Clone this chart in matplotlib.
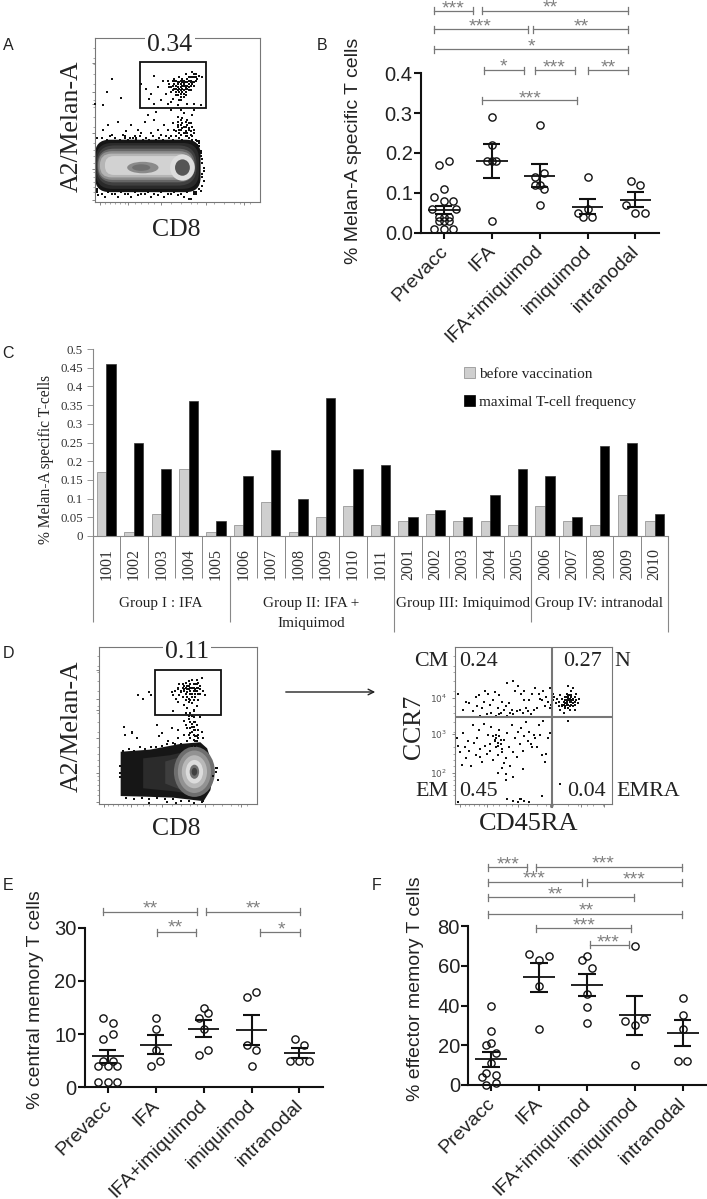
import matplotlib
matplotlib.use('Agg')
import matplotlib.pyplot as plt
from matplotlib.patches import Ellipse, FancyBboxPatch, Patch, Polygon, Rectangle

W, H = 707, 1199
SANS = 'Liberation Sans'
SERIF = 'Liberation Serif'
TEXT = '#222222'
GREY = '#777777'

groups = ['Prevacc', 'IFA', 'IFA+imiquimod', 'imiquimod', 'intranodal']

# panel B: one (offset, value) list per group, then mean and sem limits
b_off = [[-.1, .1, 0, -.2, 0, .2, -.25, .25, -.1, .1, 0, -.1, 0, .1, -.2, 0, .2],
         [0, 0, -.1, 0, .1, 0],
         [0, .1, -.1, -.1, 0, .1, 0],
         [0, 0, -.2, -.1, .1],
         [-.1, .1, -.2, 0, .2]]
b_val = [[.17, .18, .11, .09, .08, .08, .06, .06, .04, .04, .04, .03, .03, .03, .01, .01, .01],
         [.29, .22, .18, .18, .18, .03],
         [.27, .15, .14, .12, .12, .11, .07],
         [.14, .06, .05, .04, .04],
         [.13, .12, .07, .05, .05]]
b_mean = [.058, .18, .143, .065, .083]
b_upper = [.068, .222, .172, .085, .101]
b_lower = [.047, .137, .115, .047, .065]

# panel E
e_off = [[-.1, .1, .1, -.1, -.1, .1, -.2, 0, .2, -.2, 0, .2],
         [0, 0, 0, -.1, .1],
         [0, .1, -.1, 0, .1, -.1],
         [-.1, .1, -.1, .1, 0],
         [-.1, .1, -.2, 0, .2]]
e_val = [[13, 12, 10, 9, 5, 5, 4, 4, 4, 1, 1, 1],
         [13, 11, 7, 4, 5],
         [15, 14, 13, 11, 7, 6],
         [17, 18, 8, 7, 4],
         [9, 8, 5, 5, 5]]
e_mean = [5.8, 8, 11, 10.8, 6.4]
e_upper = [7, 9.8, 12.6, 13.6, 7.3]
e_lower = [4.6, 6.2, 9.4, 8, 5.5]

# panel F
f_off = [[0, 0, -.1, 0, .1, 0, -.1, -.2, .1, -.1, .1],
         [-.2, 0, .2, 0, 0],
         [-.1, 0, .1, 0, 0, 0],
         [0, -.2, .2, 0, 0],
         [0, 0, 0, -.1, .1]]
f_val = [[40, 27, 20, 21, 16, 11, 6, 4, 5, 0, 1],
         [66, 63, 65, 50, 28],
         [63, 65, 59, 46, 39, 31],
         [70, 32, 33, 30, 10],
         [44, 35, 28, 12, 12]]
f_mean = [13, 54.5, 50.5, 35, 26.3]
f_upper = [16.5, 61.5, 56, 44.7, 32.5]
f_lower = [9, 47, 44.7, 25.3, 19.7]

# panel C
patients = ['1001', '1002', '1003', '1004', '1005', '1006', '1007', '1008', '1009', '1010', '1011',
            '2001', '2002', '2003', '2004', '2005', '2006', '2007', '2008', '2009', '2010']
before_vacc = [.17, .01, .06, .18, .01, .03, .09, .01, .05, .08, .03,
               .04, .06, .04, .04, .03, .08, .04, .03, .11, .04]
maximal_freq = [.46, .25, .18, .36, .04, .16, .23, .10, .37, .18, .19,
                .05, .07, .05, .11, .18, .16, .05, .24, .25, .06]
c_ticks = [0, .05, .1, .15, .2, .25, .3, .35, .4, .45, .5]
c_tick_labels = ['0', '0.05', '0.1', '0.15', '0.2', '0.25', '0.3', '0.35', '0.4', '0.45', '0.5']

# flow panels, both axes run 0-100
a_gate_x = [28, 31, 33, 36, 38, 41, 43, 45, 46, 47,
            48, 49, 49, 50, 50, 51, 51, 52, 52, 53,
            53, 54, 54, 55, 55, 56, 56, 57, 57, 58,
            58, 59, 59, 60, 60, 61, 61, 62, 63, 65,
            36, 40, 44, 47, 50, 52, 54, 55, 56, 58,
            52, 53, 54, 55, 48, 49, 46, 34, 60, 64,
            44, 45, 46, 47, 47, 48, 48, 49, 50, 50,
            51, 51, 52, 52, 53, 53, 53, 54, 54, 55,
            55, 56, 56, 56, 57, 57, 58, 58, 59, 59,
            60, 60, 61, 49, 50, 51, 52, 54, 55, 57]
a_gate_y = [72, 69, 63, 77, 70, 74, 66, 72, 61, 68,
            75, 71, 65, 73, 68, 76, 62, 70, 66, 74,
            69, 72, 64, 78, 67, 73, 60, 76, 70, 74,
            68, 79, 72, 76, 71, 78, 74, 75, 77, 76,
            60, 62, 60, 63, 59, 62, 71, 70, 75, 73,
            72, 73, 74, 71, 74, 69, 70, 66, 60, 59,
            74, 70, 67, 71, 74, 69, 72, 74, 70, 72,
            69, 73, 68, 74, 67, 71, 75, 68, 73, 69,
            73, 69, 71, 75, 72, 74, 71, 76, 73, 76,
            73, 78, 76, 67, 65, 67, 64, 66, 65, 68]
a_low_x = [5, 8, 10, 14, 17, 19, 21, 22, 24, 26,
           28, 30, 32, 34, 36, 38, 40, 42, 44, 46,
           47, 48, 49, 50, 50, 51, 52, 52, 53, 54,
           55, 55, 56, 56, 57, 58, 58, 59, 60, 46,
           5, 7.5, 10, 16, 0, 37, 52, 60, 25, 18,
           2, 6, 10, 14, 18, 22, 26, 30, 34, 38,
           42, 46, 50, 54, 57, 60, 58, 63, 65, 64,
           63, 64, 61, 62,
           1, 4, 7, 9, 12, 15, 18, 20, 23, 25,
           27, 29, 31, 33, 35, 37, 39, 41, 43, 45,
           47, 49, 51, 53, 55, 57, 59, 61, 62, 63,
           49, 50, 51, 52, 52, 53, 54, 54, 55, 56,
           56, 57, 57, 58, 59, 59, 60, 50, 53, 55,
           1, 4, 8, 12, 16, 20, 24, 28, 32, 36,
           40, 44, 48, 52, 56, 60, 64, 65, 66, 65,
           66, 65, 65, 64, 66, 63, 62, 61, 1, 1]
a_low_y = [44, 47, 41, 49, 41, 43, 39, 47, 40, 44,
           42, 49, 53, 42, 50, 44, 41, 47, 44, 40,
           48, 44, 40, 52, 46, 42, 50, 44, 48, 54,
           42, 46, 40, 50, 44, 48, 41, 53, 44, 56,
           59, 67, 75, 63.5, 60, 55, 56, 56, 39, 39,
           4, 3, 5, 3, 5, 3, 4, 5, 3, 4,
           3, 5, 4, 3, 2, 5, 2, 8, 15, 28,
           36, 31, 6, 33,
           39, 39, 38, 40, 39, 38, 40, 38, 39, 38,
           40, 38, 39, 38, 40, 38, 39, 38, 40, 39,
           38, 40, 39, 38, 40, 39, 38, 38, 37, 37,
           43, 47, 44, 41, 47, 45, 42, 46, 43, 47,
           42, 45, 48, 43, 46, 40, 42, 49, 51, 49,
           6, 5, 6, 5, 6, 5, 6, 5, 6, 5,
           6, 5, 6, 5, 6, 6, 7, 10, 13, 17,
           21, 24, 26, 30, 19, 34, 35, 5, 7, 8]

d_gate_x = [46, 47, 48, 49, 50, 50, 51, 51, 52, 53,
            53, 54, 54, 55, 55, 56, 56, 57, 57, 58,
            58, 59, 59, 60, 60, 61, 61, 62, 62, 63,
            63, 64, 64, 65, 66, 67, 55, 58, 60, 62,
            50, 52, 53, 54, 55, 55, 56, 56, 57, 57,
            58, 58, 59, 59, 60, 60, 61, 61, 62, 63,
            54, 56, 57, 58, 59, 60, 61, 62, 63, 64]
d_gate_y = [71, 69, 72, 67, 73, 65, 69, 76, 71, 74,
            68, 75, 63, 77, 70, 73, 61, 78, 67, 74,
            70, 79, 64, 76, 60, 73, 68, 79, 72, 77,
            66, 75, 70, 80, 72, 69, 58, 58, 59, 62,
            74, 72, 76, 72, 74, 66, 75, 68, 73, 65,
            76, 66, 74, 68, 72, 66, 76, 70, 74, 70,
            73, 71, 75, 72, 70, 74, 72, 76, 74, 73]
d_low_x = [55, 57, 58, 59, 60, 60, 61, 61, 62, 63,
           64, 65, 54, 52, 50, 46, 40, 37, 44, 50,
           63, 66, 59, 56, 61, 16, 21, 24, 38, 48,
           25, 28, 32, 33, 16, 21, 16.5, 47,
           74, 74.5, 75.5, 72.5, 75, 13, 13, 13,
           32, 43, 49, 60, 66,
           54, 56, 57, 58, 59, 60, 61, 62, 63, 58,
           59, 60, 61, 59, 60, 62, 57, 58, 60, 63,
           15, 19, 22, 26, 29, 33, 36, 40, 43, 47,
           17, 22, 27, 32, 37, 42, 47, 52, 57, 65]
d_low_y = [50, 54, 48, 56, 44, 52, 40, 47, 50, 44,
           55, 46, 44, 38, 47, 48, 45, 50, 40, 42,
           38, 42, 37, 40, 37, 49, 45, 42, 43, 38,
           69, 67, 71, 69, 49, 45.5, 44, 59,
           23, 20.5, 15, 17.5, 23, 24, 19.5, 17,
           .5, 1.5, .5, .5, 2,
           53, 48, 56, 52, 49, 55, 52, 43, 47, 42,
           46, 41, 43, 51, 47, 40, 44, 45, 49, 42,
           34, 35, 34, 36, 35, 36, 36, 37, 38, 39,
           4, 3, 4, 3, 4, 3, 3, 2, 2, 1]

q_x = [62, 63, 64, 65, 66, 66, 67, 67, 68, 68,
       69, 69, 70, 70, 71, 71, 72, 72, 73, 73,
       74, 74, 75, 75, 76, 76, 77, 77, 78, 72,
       70, 71, 73, 74, 76, 79, 75, 69, 72, 73,
       2, 5, 7, 9, 11, 13, 14, 15, 16, 17,
       18, 19, 20, 21, 22, 23, 24, 25, 26, 27,
       28, 29, 30, 31, 32, 33, 34, 35, 36, 37,
       38, 39, 40, 41, 42, 43, 44, 45, 46, 47,
       48, 49, 50, 51, 52, 53, 54, 55, 56, 57,
       33, 44, 58, 59, 60, 60, 62, 61, 37, 28,
       1, 2, 3, 4, 5, 6, 7, 8, 9, 10,
       11, 12, 13, 14, 15, 16, 17, 18, 19, 20,
       21, 22, 23, 24, 25, 26, 27, 28, 29, 30,
       31, 32, 33, 34, 35, 36, 37, 38, 39, 40,
       41, 42, 43, 44, 45, 46, 47, 48, 49, 50,
       51, 52, 53, 54, 55, 56, 57, 58, 59, 22,
       25, 26, 26, 27, 28, 29, 27, 30, 31, 24,
       30, 32, 37, 32, 43, 50, 16, 27, 60, 61,
       33, 37, 40, 41, 42, 44, 47, 55, 67, 2,
       71, 72, 73, 72, 73, 74, 71, 72, 74, 75,
       70, 71, 73, 75, 69, 68, 74, 76, 70, 72]
q_y = [66, 68, 64, 67, 65, 62, 69, 60, 67, 63,
       65, 58, 68, 62, 70, 66, 63, 67, 69, 60,
       65, 72, 62, 67, 68, 60, 66, 70, 64, 75,
       66, 64, 66, 68, 65, 67, 74, 55, 53, 65,
       70, 60, 65, 64, 59, 68, 62, 69, 56, 61,
       65, 72, 57, 70, 63, 58, 66, 71, 56, 61,
       69, 58, 65, 60, 62, 56, 64, 58, 60, 57,
       72, 59, 75, 60, 70, 58, 72, 61, 59, 66,
       57, 70, 60, 74, 61, 70, 67, 66, 72, 62,
       77, 66, 68, 65, 74, 61, 70, 63, 78, 57,
       42, 37, 33, 25, 45, 36, 29, 40, 34, 24,
       50, 39, 31, 42, 47, 35, 27, 51, 37, 32,
       44, 34, 49, 28, 41, 36, 31, 47, 38, 33,
       41, 29, 45, 36, 24, 50, 33, 42, 30, 46,
       38, 48, 34, 43, 52, 40, 46, 38, 36, 44,
       42, 36, 50, 44, 31, 53, 27, 32, 42, 38,
       40, 42, 44, 39, 43, 41, 37, 35, 26, 43,
       23, 19, 17, 15, 22, 44, 30, 20, 45, 45,
       3, 2, 1, 3, 3, 2, 1, 5, 13, 1,
       65, 66, 67, 68, 66, 66, 63, 61, 63, 64,
       61, 68, 62, 66, 63, 62, 69, 63, 64, 69]

# blob outlines for the density plots
a_layer_boxes = [(0, 6, 64, 32), (.5, 8, 62.5, 28), (1, 10, 60.5, 24.5), (1.5, 12, 59, 20.5),
                 (2, 13.5, 57.5, 17.5), (3, 15, 55, 14.5), (6, 16.5, 50, 11.5)]
a_layer_radius = [9, 10, 11, 10, 8.5, 7, 5.5]
a_layer_colors = ['#151515', '#2a2a2a', '#404040', '#666666', '#8e8e8e', '#b5b5b5', '#d2d2d2']
d_outer_x = [14.4, 32.3, 51.4, 64, 68, 70, 72, 70, 66, 47, 30, 14.4]
d_outer_y = [32.6, 33.9, 37.5, 38.6, 35, 29, 19.5, 9, 2.5, 4.7, 5.3, 5.7]
d_inner_x = [[28, 45, 58, 64, 67, 69, 67, 62, 48, 28],
             [42, 52, 60, 65, 67, 67, 62, 52, 42],
             [49, 56, 62, 66, 67, 66, 62, 55, 49]]
d_inner_y = [[29, 31, 34, 33, 28, 19.5, 10, 6, 8, 10],
             [27, 30, 33, 30, 20, 11, 7, 9, 13],
             [26, 29, 32, 28, 20, 12, 8, 10, 15]]
d_inner_colors = ['#2b2b2b', '#3e3e3e', '#5c5c5c']
d_ring_sizes = [(26, 32), (21, 27), (16, 21), (11, 15), (6, 9), (3.5, 5)]
d_ring_colors = ['#6e6e6e', '#929292', '#b8b8b8', '#dcdcdc', '#707070', '#404040']

flow_minor = [6, 9, 12, 15, 18, 24, 28, 32, 36, 46, 52, 58, 62, 72, 78, 84, 88, 94]


def px_axes(fig, left, top, right, bottom):
    return fig.add_axes([left / W, 1 - bottom / H, (right - left) / W, (bottom - top) / H])


def scatter_panel(fig, box, ylim, yticks, ylabel, ylabel_x, off, val, mean, upper, lower):
    ax = px_axes(fig, *box)
    xpos = []
    ypos = []
    for i in range(len(groups)):
        xpos += [i + o for o in off[i]]
        ypos += val[i]
    ax.set_xlim((box[0] - (box[0] + 22.8)) / 47.9, 4 + (box[2] - (box[0] + 22.8 + 4 * 47.9)) / 47.9)
    ax.set_ylim(*ylim)
    ax.plot(xpos, ypos, 'o', ms=5.2, mfc='none', mec='#111111', mew=1.0, clip_on=False, zorder=3)
    for i in range(len(groups)):
        ax.hlines(mean[i], i - .33, i + .33, color='#111111', lw=1.3, zorder=4)
        ax.hlines([upper[i], lower[i]], i - .18, i + .18, color='#111111', lw=1.5, zorder=4)
        ax.vlines(i, lower[i], upper[i], color='#111111', lw=1.5, zorder=4)
    for s in ['top', 'right']:
        ax.spines[s].set_visible(False)
    for s in ['left', 'bottom']:
        ax.spines[s].set_linewidth(1.5)
        ax.spines[s].set_color('#111111')
    ax.set_yticks(yticks)
    ax.set_xticks(range(len(groups)))
    ax.set_xticklabels([])
    # rotated labels sit a little left of their ticks
    for i, g in enumerate(groups):
        ax.annotate(g, xy=(i, ylim[0]), xytext=(-3.6, -7), textcoords='offset points', rotation=45,
                    ha='right', va='top', rotation_mode='anchor', fontsize=14, family=SANS, color=TEXT,
                    annotation_clip=False)
    ax.tick_params(axis='x', length=4, width=1.5, color='#111111')
    ax.tick_params(axis='y', length=5, width=1.5, pad=1, labelsize=14.5, labelcolor=TEXT, color='#111111')
    for t in ax.get_yticklabels():
        t.set_family(SANS)
    ov.text(ylabel_x, (box[1] + box[3]) / 2 + ylabel[1], ylabel[0], rotation=90, ha='center', va='center',
            fontsize=14, family=SANS, color=TEXT)
    return ax


def bracket(x0, x1, y, stars, star_x, star_y):
    ov.plot([x0, x1], [y, y], color=GREY, lw=.9)
    ov.plot([x0, x0], [y - 3.5, y + 3.5], color=GREY, lw=.9)
    ov.plot([x1, x1], [y - 3.5, y + 3.5], color=GREY, lw=.9)
    ov.text(star_x, star_y + 4, stars, ha='center', va='center', fontsize=14, family=SANS, color='#808080')


def flow_axes(fig, box, xticks, yticks):
    ax = px_axes(fig, *box)
    ax.set_xlim(0, 100)
    ax.set_ylim(0, 100)
    for s in ax.spines.values():
        s.set_color(GREY)
        s.set_linewidth(.8)
    ax.set_xticks(xticks)
    ax.set_yticks(yticks)
    ax.set_xticklabels([])
    ax.set_yticklabels([])
    ax.set_xticks(flow_minor, minor=True)
    ax.set_yticks(flow_minor, minor=True)
    ax.tick_params(length=2.5, width=.5, color='#555555')
    ax.tick_params(which='minor', length=1.2, width=.4, color='#666666')
    return ax


def dots(ax, x, y, size=2.2):
    ax.scatter(x, y, s=size, c='#111111', marker='s', linewidths=0, zorder=5, clip_on=False)


def serif(x, y, txt, size=18.5, rotation=0, **kw):
    ov.text(x, y, txt, ha='center', va='center', fontsize=size, family=SERIF, color=TEXT, rotation=rotation, **kw)


fig = plt.figure(figsize=(W / 100, H / 100), dpi=100)
ov = fig.add_axes([0, 0, 1, 1], zorder=10)
ov.set_xlim(0, W)
ov.set_ylim(H, 0)
ov.axis('off')

# panel labels
for lab, x, y in [('A', 8, 46), ('B', 322, 46), ('C', 8, 353), ('D', 8, 654), ('E', 8, 886), ('F', 377, 886)]:
    ov.text(x, y, lab, ha='center', va='center', fontsize=11.5, family=SANS, color=TEXT)

# A
ax_a = flow_axes(fig, (95, 38, 260, 202), [3, 20, 40, 67, 90], [1, 20, 42, 60, 67, 85])
for (x0, y0, w, h), col, r in zip(a_layer_boxes, a_layer_colors, a_layer_radius):
    ax_a.add_patch(FancyBboxPatch((x0, y0), w, h, boxstyle='round,pad=0,rounding_size=%g' % r, fc=col, ec='none', zorder=2))
ax_a.add_patch(Ellipse((29, 21), 19, 7, fc='#8a8a8a', ec='none', zorder=3))
ax_a.add_patch(Ellipse((28, 21), 11, 4, fc='#707070', ec='none', zorder=3))
ax_a.add_patch(Ellipse((53, 21), 15, 16, fc='#dddddd', ec='none', zorder=3))
ax_a.add_patch(Ellipse((53, 21), 9, 10, fc='#555555', ec='none', zorder=4))
dots(ax_a, a_gate_x, a_gate_y)
dots(ax_a, a_low_x, a_low_y)
ax_a.add_patch(Rectangle((27.3, 57.5), 40, 28, fc='none', ec='#111111', lw=1.3, zorder=6))
serif(170, 45, '0.34', bbox=dict(fc='white', ec='none', pad=1.5))
serif(72, 126, 'A2/Melan-A', rotation=90)
serif(176, 230, 'CD8')

# B
scatter_panel(fig, (421, 73.3, 659, 232.7), (0, .4), [0, .1, .2, .3, .4], ('% Melan-A specific T cells', -2.5), 353,
              b_off, b_val, b_mean, b_upper, b_lower)
for x0, x1, y, st, sx, sy in [(433.7, 473, 10.7, '***', 453, 4.5), (482, 627.7, 10.7, '**', 550, 3.5),
                              (433.7, 528.3, 29, '***', 480, 22.5), (533.3, 627.7, 29, '**', 581.7, 22.5),
                              (433.7, 627.7, 49.3, '*', 531, 42.5), (484.3, 523.7, 70, '*', 503.3, 62.5),
                              (535.3, 574.7, 70, '***', 554, 64), (588.3, 627.7, 70, '**', 608.3, 63.5),
                              (482.3, 576.7, 100, '***', 530, 94.5)]:
    bracket(x0, x1, y, st, sx, sy)

# C
ax_c = px_axes(fig, 92.7, 349, 668.3, 536)
idx = list(range(len(patients)))
ax_c.bar([i - .175 for i in idx], before_vacc, .35, color='#cfcfcf', edgecolor='#888888', linewidth=.5)
ax_c.bar([i + .175 for i in idx], maximal_freq, .35, color='black', edgecolor='#333333', linewidth=.5)
ax_c.set_xlim(-.5, 20.5)
ax_c.set_ylim(0, .5)
ax_c.set_yticks(c_ticks)
ax_c.set_yticklabels(c_tick_labels, fontsize=9.3, family=SERIF, color='#333333')
ax_c.set_xticks(idx)
ax_c.set_xticklabels(patients, rotation=90, fontsize=11.5, family=SERIF, color='#333333')
ax_c.tick_params(axis='x', length=0, pad=9)
ax_c.tick_params(axis='y', length=4, width=.6, color='#888888', pad=3)
ax_c.set_xticks([i + .5 for i in range(-1, 21)], minor=True)
ax_c.tick_params(axis='x', which='minor', length=30, width=.7, color='#888888')
for s in ['top', 'right']:
    ax_c.spines[s].set_visible(False)
for s in ['left', 'bottom']:
    ax_c.spines[s].set_color('#888888')
    ax_c.spines[s].set_linewidth(.8)
ax_c.vlines([-.5, 4.5, 15.5], -.229, 0, color='#888888', lw=.8, clip_on=False)
ax_c.vlines([10.5, 20.5], -.256, 0, color='#888888', lw=.8, clip_on=False)
ov.text(46, 459.5, '% Melan-A specific T-cells', rotation=90, ha='center', va='center', fontsize=11.2,
        family=SERIF, color=TEXT)
for txt, x, y in [('Group I : IFA', 161, 603), ('Group II: IFA +', 311.5, 603), ('Imiquimod', 311.5, 623),
                  ('Group III: Imiquimod', 462.5, 603), ('Group IV: intranodal', 599, 603)]:
    serif(x, y, txt, size=11)
fig.legend(handles=[Patch(fc='#cfcfcf', ec='#888888', lw=.5, label='before vaccination'),
                    Patch(fc='black', ec='black', lw=.5, label='maximal T-cell frequency')],
           loc='upper left', bbox_to_anchor=(464 / W, 1 - 367 / H), frameon=False, borderpad=0, borderaxespad=0,
           handlelength=.75, handleheight=.75, handletextpad=.25, labelspacing=.9,
           prop={'family': SERIF, 'size': 11}, labelcolor=TEXT)

# D
ax_d = flow_axes(fig, (99, 646.7, 256.7, 804), [3, 20, 40, 67, 90], [1, 20, 42, 60, 67, 85])
ax_d.add_patch(Polygon(list(zip(d_outer_x, d_outer_y)), closed=True, fc='#161616', ec='#161616', lw=1.5, zorder=2))
for px, py, col in zip(d_inner_x, d_inner_y, d_inner_colors):
    ax_d.add_patch(Polygon(list(zip(px, py)), closed=True, fc=col, ec='none', zorder=3))
for (rw, rh), col in zip(d_ring_sizes, d_ring_colors):
    ax_d.add_patch(Ellipse((60.5, 20.5), rw, rh, fc=col, ec='none', zorder=4))
dots(ax_d, d_gate_x, d_gate_y)
dots(ax_d, d_low_x, d_low_y)
ax_d.add_patch(Rectangle((35.7, 56.5), 41.6, 29, fc='none', ec='#111111', lw=1.3, zorder=6))
serif(186.7, 652, '0.11', bbox=dict(fc='white', ec='none', pad=1.5))
serif(72, 726, 'A2/Melan-A', rotation=90)
serif(176, 829, 'CD8')
ov.annotate('', xy=(378, 692), xytext=(283, 692), arrowprops=dict(arrowstyle='->', color='#222222', lw=1))

# quadrant plot
ax_q = flow_axes(fig, (455.3, 646.7, 612.3, 804), [3, 20, 40, 60, 80, 95], [2, 20, 44.5, 67.2, 90])
ax_q.set_yticks([20, 44.5, 67.2])
ax_q.set_yticklabels(['$10^2$', '$10^3$', '$10^4$'], fontsize=6.5, color='#555555')
dots(ax_q, q_x, q_y, size=2.2)
ax_q.axvline(61.9, color=GREY, lw=1.5, zorder=6)
ax_q.axhline(55.5, color=GREY, lw=1.5, zorder=6)
ax_q.plot([61.9, 61.9], [0, -2], color=GREY, lw=1.5, clip_on=False)
for txt, x, y in [('CM', 431.7, 661), ('0.24', 479, 661), ('0.27', 583, 661), ('N', 622, 661),
                  ('EM', 432, 791), ('0.45', 478, 791), ('0.04', 586, 791), ('EMRA', 648, 791)]:
    serif(x, y, txt, size=15.8)
serif(414, 726.7, 'CCR7', rotation=90)
serif(529, 824, 'CD45RA', size=19)

# E
scatter_panel(fig, (85, 927.7, 323.3, 1087.3), (0, 30), [0, 10, 20, 30], ('% central memory T cells', -8), 36,
              e_off, e_val, e_mean, e_upper, e_lower)
for x0, x1, y, st, sx, sy in [(103.3, 197.3, 911.7, '**', 150, 905), (205.7, 300.3, 911.7, '**', 253.3, 905),
                              (156.7, 196.3, 932, '**', 175.7, 924.3), (260.3, 300, 932, '*', 281, 925.7)]:
    bracket(x0, x1, y, st, sx, sy)

# F
scatter_panel(fig, (468.3, 926, 707, 1085), (0, 80), [0, 20, 40, 60, 80], ('% effector memory T cells', -16.5), 415,
              f_off, f_val, f_mean, f_upper, f_lower)
for x0, x1, y, st, sx, sy in [(487.7, 527.3, 867, '***', 507.7, 861), (536.3, 682, 867, '***', 603.3, 859.7),
                              (488.3, 582.3, 882, '***', 534, 875), (587.3, 682, 882, '***', 634.3, 875.7),
                              (487.7, 633.7, 897.3, '**', 555.3, 890.7), (488.3, 682.3, 914, '**', 586, 907.3),
                              (536.3, 631.3, 928, '***', 584, 922), (589.7, 629, 944.7, '***', 608.3, 939.3)]:
    bracket(x0, x1, y, st, sx, sy)

fig.savefig('out.png', dpi=100)
